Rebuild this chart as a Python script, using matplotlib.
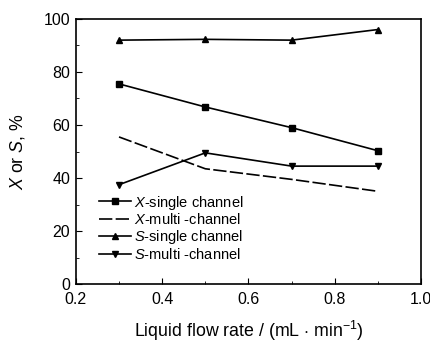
import matplotlib.pyplot as plt
from matplotlib.ticker import MultipleLocator

plt.rcParams['font.family'] = ['Liberation Sans', 'DejaVu Sans']
plt.rcParams['mathtext.fontset'] = 'custom'
plt.rcParams['mathtext.rm'] = 'Liberation Sans'
plt.rcParams['mathtext.it'] = 'Liberation Sans:italic'

flow = [0.3, 0.5, 0.7, 0.9]
x_single = [75.5, 66.8, 59.0, 50.3]
x_multi = [55.5, 43.5, 39.5, 35.0]
s_single = [92.0, 92.3, 92.0, 96.0]
s_multi = [37.5, 49.5, 44.5, 44.5]

fig = plt.figure(figsize=(4.31, 3.44), dpi=100)
ax = fig.add_axes([0.176, 0.174, 0.801, 0.771])

ax.plot(flow, x_single, 'k-', marker='s', ms=5, lw=1.2, label=r'$\it{X}$-single channel')
ax.plot(flow, x_multi, 'k', ls=(0, (8, 2)), lw=1.2, label=r'$\it{X}$-multi -channel')
ax.plot(flow, s_single, 'k-', marker='^', ms=5, lw=1.2, label=r'$\it{S}$-single channel')
ax.plot(flow, s_multi, 'k-', marker='v', ms=5, lw=1.2, label=r'$\it{S}$-multi -channel')

ax.set_xlim(0.2, 1.0)
ax.set_ylim(0, 100)
ax.xaxis.set_major_locator(MultipleLocator(0.2))
ax.xaxis.set_minor_locator(MultipleLocator(0.1))
ax.yaxis.set_major_locator(MultipleLocator(20))
ax.yaxis.set_minor_locator(MultipleLocator(10))
ax.xaxis.set_major_formatter(plt.FuncFormatter(lambda v, p: f"{v:.1f}"))
ax.tick_params(which='both', direction='in', labelsize=11.5)
ax.tick_params(which='major', length=4)
ax.tick_params(which='minor', length=2)
ax.tick_params(axis='x', pad=6)
ax.tick_params(axis='y', pad=4)
for s in ax.spines.values():
    s.set_linewidth(1.2)

ax.set_xlabel(r'Liquid flow rate / (mL $\cdot$ min$^{-1}$)', fontsize=12.8, labelpad=8)
ax.set_ylabel(r'$\it{X}$ or $\it{S}$, %', fontsize=12.8, labelpad=12)

ax.legend(loc='lower left', bbox_to_anchor=(0.03, 0.035), frameon=False,
          fontsize=10.5, handlelength=2.2, handletextpad=0.2, labelspacing=0.05)

plt.savefig('out.png', dpi=100)
